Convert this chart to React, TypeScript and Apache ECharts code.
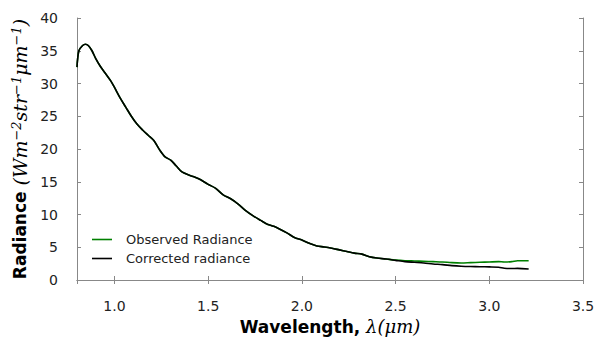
import React, { useEffect, useRef } from "react";
import * as echarts from "echarts";

const wavelength = [
  0.80, 0.81, 0.83, 0.845, 0.86, 0.88, 0.90, 0.925, 0.95, 0.98, 1.00, 1.03, 1.06, 1.09,
  1.12, 1.15, 1.18, 1.21, 1.24, 1.27, 1.30, 1.33, 1.36, 1.40, 1.43, 1.46, 1.50, 1.54,
  1.58, 1.62, 1.66, 1.70, 1.74, 1.78, 1.81, 1.85, 1.88, 1.92, 1.96, 2.00, 2.04, 2.08,
  2.12, 2.16, 2.20, 2.24, 2.28, 2.32, 2.36, 2.40, 2.45, 2.50, 2.55, 2.60, 2.65, 2.70,
  2.75, 2.80, 2.85, 2.90, 2.95, 3.00, 3.05, 3.08, 3.12, 3.15, 3.21,
];

const observed = [
  32.5, 35.0, 35.8, 36.0, 35.8, 35.0, 33.8, 32.6, 31.6, 30.4, 29.4, 27.8, 26.4, 25.0,
  23.8, 22.9, 22.1, 21.3, 19.9, 18.8, 18.3, 17.4, 16.5, 16.0, 15.7, 15.3, 14.6, 14.0,
  13.0, 12.4, 11.6, 10.6, 9.8, 9.1, 8.6, 8.2, 7.8, 7.2, 6.5, 6.1, 5.6, 5.2,
  5.05, 4.85, 4.6, 4.35, 4.1, 3.95, 3.55, 3.35, 3.2, 3.05, 2.95, 2.9, 2.85, 2.8,
  2.75, 2.65, 2.6, 2.65, 2.7, 2.75, 2.8, 2.75, 2.8, 2.95, 2.95,
];

const corrected = [
  32.5, 35.0, 35.8, 36.0, 35.8, 35.0, 33.8, 32.6, 31.6, 30.4, 29.4, 27.8, 26.4, 25.0,
  23.8, 22.9, 22.1, 21.3, 19.9, 18.8, 18.3, 17.4, 16.5, 16.0, 15.7, 15.3, 14.6, 14.0,
  13.0, 12.4, 11.6, 10.6, 9.8, 9.1, 8.6, 8.2, 7.8, 7.2, 6.5, 6.1, 5.6, 5.2,
  5.05, 4.85, 4.6, 4.35, 4.1, 3.95, 3.55, 3.35, 3.2, 3.0, 2.8, 2.7, 2.6, 2.45,
  2.35, 2.2, 2.1, 2.05, 2.03, 2.0, 1.95, 1.8, 1.75, 1.78, 1.68,
];

const seriesNames = ["Observed Radiance", "Corrected radiance"];

export default function App() {
  const ref = useRef<HTMLDivElement>(null);
  useEffect(() => {
    if (!ref.current) return;
    const chart = echarts.init(ref.current, null, { renderer: "svg" });
    const spine = { show: true, lineStyle: { color: "#888", width: 1 } };
    const tickStyle = { show: true, inside: true, length: 4, lineStyle: { color: "#888", width: 1 } };
    const txt = "#222";
    const mathFont = "DejaVu Serif";
    chart.setOption({
      animation: false,
      grid: { left: 77, right: 12, top: 18, bottom: 57, containLabel: false, outerBoundsMode: "none" },
      legend: {
        orient: "vertical",
        left: 87,
        top: 228,
        icon: "rect",
        itemWidth: 20,
        itemHeight: 1.6,
        itemGap: 6,
        data: seriesNames,
        formatter: (n: string) => `{a|${n}}`,
        textStyle: {
          color: txt,
          fontFamily: "DejaVu Sans",
          fontSize: 13,
          rich: { a: { padding: [0, 0, 0, 9], fontSize: 13, lineHeight: 14, fontFamily: "DejaVu Sans", color: txt } },
        },
      },
      xAxis: [
        {
          type: "value",
          min: 0.8,
          max: 3.5,
          splitNumber: 5,
          position: "bottom",
          axisLine: spine,
          axisTick: tickStyle,
          splitLine: { show: false },
          axisLabel: {
            showMinLabel: false,
            margin: 19,
            color: txt,
            fontSize: 14,
            fontFamily: "DejaVu Sans",
            formatter: (v: number) => v.toFixed(1),
          },
          name: "{b|Wavelength, }{m|λ(μm)}",
          nameLocation: "middle",
          nameGap: 37,
          nameTextStyle: {
            rich: {
              b: { fontFamily: "DejaVu Sans", fontWeight: "bold", fontSize: 17, color: "#000" },
              m: { fontFamily: mathFont, fontStyle: "italic", fontSize: 18, color: "#000" },
            },
          },
        },
        {
          type: "value",
          min: 0.8,
          max: 3.5,
          splitNumber: 5,
          position: "top",
          axisLine: spine,
          axisTick: tickStyle,
          splitLine: { show: false },
          axisLabel: { show: false },
        },
      ],
      yAxis: [
        {
          type: "value",
          min: 0,
          max: 40,
          interval: 5,
          position: "left",
          axisLine: spine,
          axisTick: tickStyle,
          splitLine: { show: false },
          axisLabel: { margin: 19, color: txt, fontSize: 14, fontFamily: "DejaVu Sans" },
          name: "{b|Radiance }{m|(Wm}{s|−2}{m|str}{s|−1}{m|μm}{s|−1}{m|)}",
          nameLocation: "middle",
          nameRotate: 90,
          nameGap: 31,
          nameTextStyle: {
            rich: {
              b: { fontFamily: "DejaVu Sans", fontWeight: "bold", fontSize: 17, color: "#000" },
              m: { fontFamily: mathFont, fontStyle: "italic", fontSize: 19, color: "#000" },
              s: { fontFamily: mathFont, fontStyle: "italic", fontSize: 13, color: "#000", verticalAlign: "top" },
            },
          },
        },
        {
          type: "value",
          min: 0,
          max: 40,
          interval: 5,
          position: "right",
          axisLine: spine,
          axisTick: tickStyle,
          splitLine: { show: false },
          axisLabel: { show: false },
        },
      ],
      series: [
        {
          name: seriesNames[0],
          type: "line",
          symbol: "none",
          smooth: 0.3,
          data: wavelength.map((w, i) => [w, observed[i]]),
          lineStyle: { color: "#008000", width: 1.6 },
          itemStyle: { color: "#008000" },
          z: 2,
        },
        {
          name: seriesNames[1],
          type: "line",
          symbol: "none",
          smooth: 0.3,
          data: wavelength.map((w, i) => [w, corrected[i]]),
          lineStyle: { color: "#000", width: 1.6 },
          itemStyle: { color: "#000" },
          z: 3,
        },
      ],
    });
    return () => chart.dispose();
  }, []);
  return <div ref={ref} style={{ width: 595, height: 337, position: "absolute", left: 0, top: 0 }} />;
}
